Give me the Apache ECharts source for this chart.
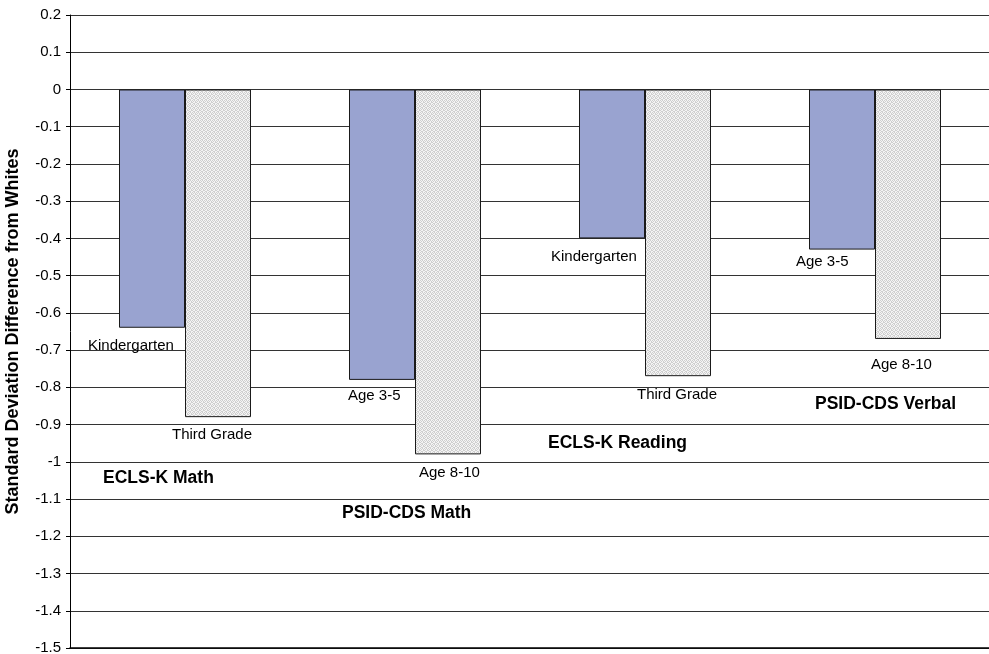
<!DOCTYPE html>
<html>
<head>
<meta charset="utf-8">
<title>Standard Deviation Difference from Whites</title>
<script src="https://cdn.jsdelivr.net/npm/echarts@6/dist/echarts.min.js"></script>
<style>
  html, body { margin: 0; padding: 0; background: #fff; }
  #chart { width: 989px; height: 654px; }
</style>
</head>
<body>
<div id="chart"></div>
<script>
// Test groups along the x axis
const groups = ['ECLS-K Math', 'PSID-CDS Math', 'ECLS-K Reading', 'PSID-CDS Verbal'];
// Earlier measurement in each group (blue bars)
const earlyLabels = ['Kindergarten', 'Age 3-5', 'Kindergarten', 'Age 3-5'];
const earlyValues = [-0.64, -0.78, -0.40, -0.43];
// Later measurement in each group (dotted bars)
const lateLabels = ['Third Grade', 'Age 8-10', 'Third Grade', 'Age 8-10'];
const lateValues = [-0.88, -0.98, -0.77, -0.67];
// Value axis range and step
const yMin = -1.5;
const yMax = 0.2;
const yStep = 0.1;

// Label placement (pixel offsets from each bar's end)
const earlyOffsets = [[-64, 18], [-34, 16], [-61, 18], [-46, 12]];
const lateOffsets = [[-46, 18], [-29, 18], [-41, 19], [-37, 26]];
const titleOffsets = [[-82, 61], [-73, 59], [-97, 67], [-60, 65]];

// Fine stippled fill for the later bars
function dotPattern() {
  const c = document.createElement('canvas');
  c.width = 4; c.height = 4;
  const g = c.getContext('2d');
  g.fillStyle = '#f4f4f4';
  g.fillRect(0, 0, 4, 4);
  g.fillStyle = '#cfcfcf';
  [[0, 0], [2, 0], [1, 1], [3, 2], [0, 2], [2, 3], [1, 3], [3, 1]].forEach(p => g.fillRect(p[0], p[1], 1, 1));
  return c;
}

const FONT = '"Liberation Sans", Arial, Helvetica, sans-serif';

function barItems(values, labels, offsets) {
  return values.map((v, i) => ({
    value: v,
    label: { formatter: labels[i], offset: offsets[i] }
  }));
}

const chart = echarts.init(document.getElementById('chart'), null, { renderer: 'canvas' });

chart.setOption({
  backgroundColor: '#fff',
  animation: false,
  grid: { left: 70, top: 15, width: 920, bottom: 6, containLabel: false, outerBoundsMode: 'none' },
  xAxis: {
    type: 'category',
    data: groups,
    boundaryGap: true,
    axisLine: { onZero: false, lineStyle: { color: '#000', width: 1.5 } },
    axisTick: { show: false },
    axisLabel: { show: false },
    splitLine: { show: false }
  },
  yAxis: {
    type: 'value',
    min: yMin,
    max: yMax,
    interval: yStep,
    name: 'Standard Deviation Difference from Whites',
    nameLocation: 'middle',
    nameRotate: 90,
    nameGap: 48,
    nameTextStyle: { fontFamily: FONT, fontSize: 18, fontWeight: 'bold', color: '#000' },
    axisLine: { show: true, lineStyle: { color: '#000', width: 1 } },
    axisTick: { show: true, inside: false, length: 4, lineStyle: { color: '#000' } },
    axisLabel: {
      margin: 9,
      fontFamily: FONT,
      fontSize: 15,
      color: '#000',
      formatter: v => String(Math.round(v * 10) / 10)
    },
    splitLine: { show: true, lineStyle: { color: '#333', width: 1 } }
  },
  series: [
    {
      name: 'Early',
      type: 'bar',
      barWidth: 66,
      barGap: '0%',
      data: barItems(earlyValues, earlyLabels, earlyOffsets),
      itemStyle: { color: '#99a3d0', borderColor: '#1a1a1a', borderWidth: 1 },
      label: {
        show: true,
        position: 'bottom',
        distance: 0,
        align: 'left',
        verticalAlign: 'middle',
        fontFamily: FONT,
        fontSize: 15,
        color: '#000'
      }
    },
    {
      name: 'Late',
      type: 'bar',
      barWidth: 66,
      barGap: '0%',
      data: barItems(lateValues, lateLabels, lateOffsets),
      itemStyle: {
        color: { image: dotPattern(), repeat: 'repeat' },
        borderColor: '#1a1a1a',
        borderWidth: 1
      },
      label: {
        show: true,
        position: 'bottom',
        distance: 0,
        align: 'left',
        verticalAlign: 'middle',
        fontFamily: FONT,
        fontSize: 15,
        color: '#000'
      }
    },
    {
      // Group titles, anchored under each group's deeper bar
      name: 'Titles',
      type: 'scatter',
      symbolSize: 0,
      silent: true,
      itemStyle: { color: '#000' },
      data: groups.map((g, i) => ({
        value: [i, lateValues[i]],
        label: { formatter: g, offset: titleOffsets[i] }
      })),
      label: {
        show: true,
        position: 'right',
        distance: 0,
        align: 'left',
        verticalAlign: 'middle',
        fontFamily: FONT,
        fontSize: 17.5,
        fontWeight: 'bold',
        color: '#000',
        textBorderWidth: 0,
        opacity: 1
      },
      z: 5
    }
  ]
});
</script>
</body>
</html>
